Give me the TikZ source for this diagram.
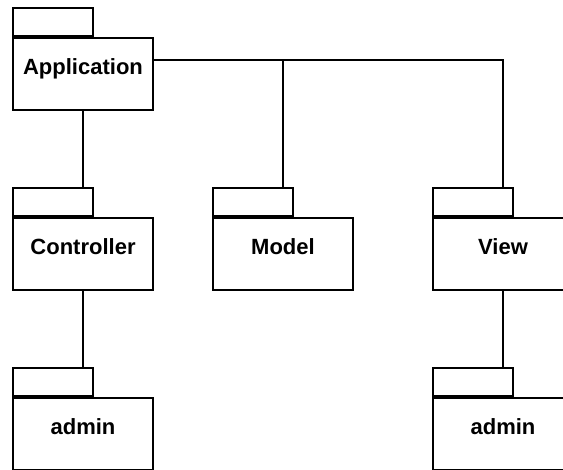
\documentclass[tikz,border=0pt]{standalone}
\usepackage{fontspec}
\setmainfont{Liberation Sans}
\usepackage{tikz}
\usetikzlibrary{positioning}

\begin{document}
\begin{tikzpicture}[x=0.5pt, y=-0.5pt]
% -------------------------------------------------
\tikzset{
  pkg/.style={draw, line width=1pt, rectangle, minimum width=70pt, minimum height=36pt,
    inner sep=0pt, font=\fontsize{11pt}{13pt}\selectfont\bfseries, text height=8pt, text depth=7pt},
  tab/.style={draw, line width=1pt, rectangle, minimum width=40pt, minimum height=14pt,
    inner sep=0pt, anchor=south west},
  line/.style={draw, line width=1pt}
}
% -------------------------------------------------
\useasboundingbox (0,0) rectangle (563,470);

% Placing the nodes
\node [pkg] (app) at (83,74) {Application};
\node [tab] (apptab) at (app.north west) {};

\node [pkg] (ctrl) at (83,254) {Controller};
\node [tab] (ctrltab) at (ctrl.north west) {};

\node [pkg] (model) at (283,254) {Model};
\node [tab] (modeltab) at (model.north west) {};

\node [pkg] (view) at (503,254) {View};
\node [tab] (viewtab) at (view.north west) {};

\node [pkg] (ctrladmin) at (83,434) {admin};
\node [tab] (ctrladmintab) at (ctrladmin.north west) {};

\node [pkg] (viewadmin) at (503,434) {admin};
\node [tab] (viewadmintab) at (viewadmin.north west) {};

\coordinate (bus) at ([yshift=7pt]app.east);

\path [line] (app.south) -- (ctrl.north |- ctrltab.north);
\path [line] (bus) -| (view.north |- viewtab.north);
\path [line] (bus -| model.north) -- (model.north |- modeltab.north);
\path [line] (ctrl.south) -- (ctrladmin.north |- ctrladmintab.north);
\path [line] (view.south) -- (viewadmin.north |- viewadmintab.north);

\end{tikzpicture}
\end{document}
